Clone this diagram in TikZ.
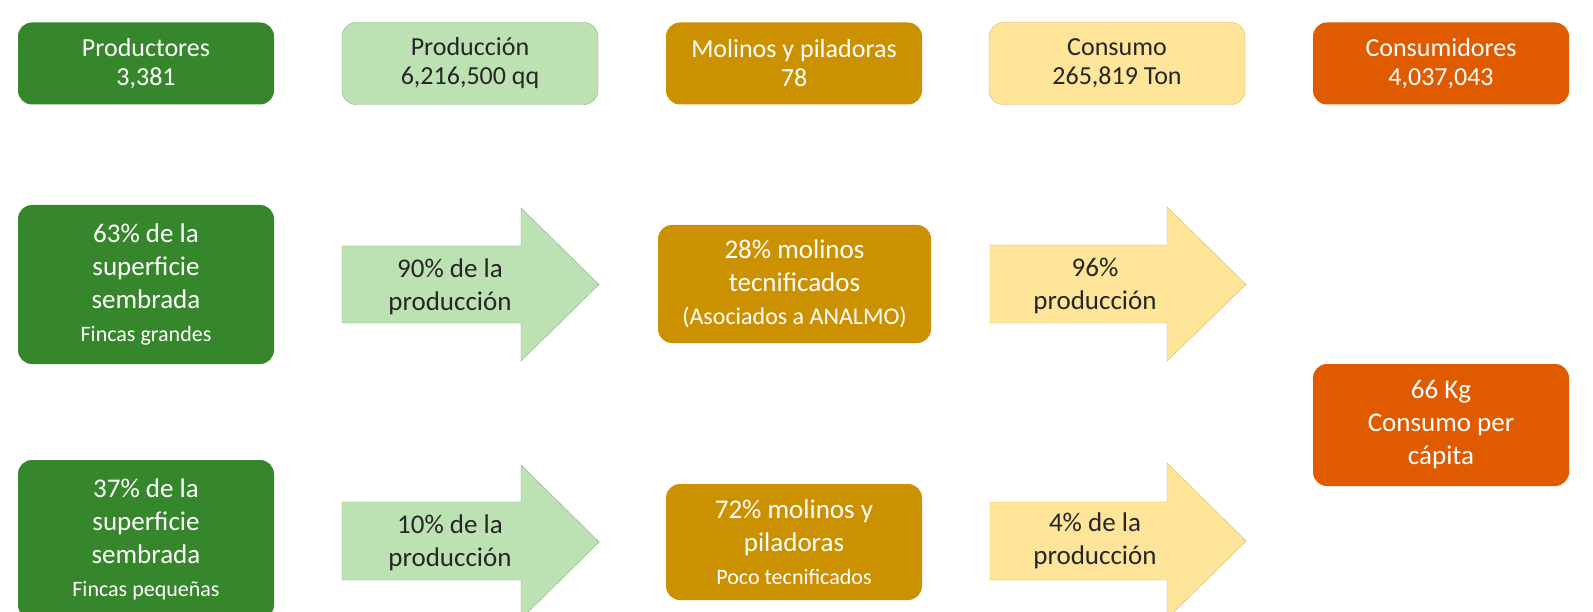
\documentclass[tikz,border=0pt]{standalone}
\usepackage{fontspec}
\setmainfont{Carlito}
\usepackage{xcolor}
\definecolor{riceGreen}{RGB}{54,134,44}
\definecolor{riceLight}{RGB}{188,226,180}
\definecolor{riceLightLine}{RGB}{132,178,124}
\definecolor{riceGold}{RGB}{204,145,0}
\definecolor{riceCream}{RGB}{255,229,153}
\definecolor{riceCreamLine}{RGB}{214,184,96}
\definecolor{riceOrange}{RGB}{224,91,0}
\definecolor{riceText}{RGB}{38,38,38}

\begin{document}
\begin{tikzpicture}[x=1pt,y=-1pt,
    box/.style={rounded corners=14pt,minimum width=256pt,align=center,inner sep=0pt},
    topfont/.style={font=\fontsize{26}{29}\selectfont},
    rowfont/.style={font=\fontsize{27}{33}\selectfont},
    darkbox/.style={box,fill=#1,text=white},
    lightbox/.style={box,fill=#1,text=riceText},
    arrowtext/.style={rowfont,align=center,text=riceText,inner sep=0pt}]
    \useasboundingbox[fill=white] (0,0) rectangle (1593,612);

    % Header row
    \node[darkbox=riceGreen,topfont,minimum height=82pt] (prod) at (146,63.5) {Productores\\3,381};
    \node[lightbox=riceLight,draw=riceLightLine,topfont,minimum height=82pt] (cant) at (470,63.5) {Producción\\6,216,500 qq};
    \node[darkbox=riceGold,topfont,minimum height=82pt] (mol) at (794,63.5) {Molinos y piladoras\\78};
    \node[lightbox=riceCream,draw=riceCreamLine,topfont,minimum height=82pt] (cons) at (1117,63.5) {Consumo\\265,819 Ton};
    \node[darkbox=riceOrange,topfont,minimum height=82pt] (cmd) at (1441,63.5) {Consumidores\\4,037,043};

    % Large farms
    \node[darkbox=riceGreen,rowfont,minimum height=159pt] (grande) at (146,284.5) {63\% de la\\superficie\\sembrada\\{\fontsize{22}{30}\selectfont Fincas grandes}};
    \filldraw[fill=riceLight,draw=riceLightLine] (342,246) -- (521,246) -- (521,208) -- (599,284.5) -- (521,361) -- (521,323) -- (342,323) -- cycle;
    \node[arrowtext] (pct90) at (450,286.5) {90\% de la\\producción};
    \node[darkbox=riceGold,rowfont,minimum width=273pt,minimum height=118pt] (tecn) at (794.5,284) {28\% molinos\\tecnificados\\{\fontsize{24}{31}\selectfont (Asociados a ANALMO)}};
    \filldraw[fill=riceCream,draw=riceCreamLine] (990,245) -- (1167,245) -- (1167,207) -- (1246,284.5) -- (1167,361) -- (1167,323) -- (990,323) -- cycle;
    \node[arrowtext] (pct96) at (1095,286) {96\%\\producción};

    % Per capita
    \node[darkbox=riceOrange,rowfont,minimum height=122pt] (capita) at (1441,425) {66 Kg\\Consumo per\\cápita};

    % Small farms
    \node[darkbox=riceGreen,rowfont,minimum height=159pt] (peque) at (146,539.5) {37\% de la\\superficie\\sembrada\\{\fontsize{22}{30}\selectfont Fincas pequeñas}};
    \filldraw[fill=riceLight,draw=riceLightLine] (342,502) -- (521,502) -- (521,465) -- (599,542) -- (521,619) -- (521,580) -- (342,580) -- cycle;
    \node[arrowtext] (pct10) at (450,543) {10\% de la\\producción};
    \node[darkbox=riceGold,rowfont,minimum height=116pt] (poco) at (794,542) {72\% molinos y\\piladoras\\{\fontsize{22}{32}\selectfont Poco tecnificados}};
    \filldraw[fill=riceCream,draw=riceCreamLine] (990,502) -- (1167,502) -- (1167,463) -- (1246,541) -- (1167,619) -- (1167,580) -- (990,580) -- cycle;
    \node[arrowtext] (pct4) at (1095,541) {4\% de la\\producción};
\end{tikzpicture}
\end{document}
